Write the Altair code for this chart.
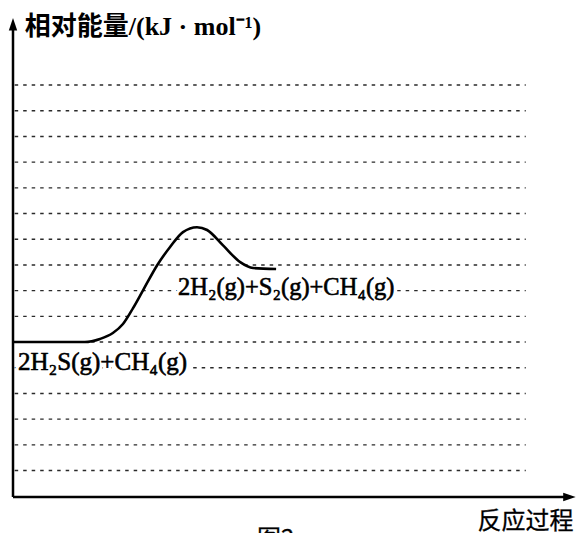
import altair as alt
import pandas as pd

# Reaction coordinate (arbitrary units, 0-100) and relative energy (grid units)
curve_x = [0, 12.8, 15.5, 17.8, 19.6, 21.4, 23.2, 25.7, 28.0, 30.3, 32.8, 34.6, 37.4, 40.5, 42.8, 46.9]
curve_e = [0, 0, 0.12, 0.35, 0.70, 1.32, 2.02, 2.99, 3.70, 4.28, 4.47, 4.36, 3.77, 3.11, 2.88, 2.84]

# Dashed reference levels
grid_levels = list(range(-5, 11))
grid_x_start = 0.3
grid_x_end = 91.4

# Axis extents
x_min, x_max = 0, 100
e_min, e_max = -6.03, 12.61

y_title = "相对能量/(kJ · mol⁻¹)"
x_title = "反应过程"
reactant_label = "2H₂S(g)+CH₄(g)"
product_label = "2H₂(g)+S₂(g)+CH₄(g)"
caption = "图2"

xs = alt.Scale(domain=[x_min, x_max], nice=False, zero=False)
ys = alt.Scale(domain=[e_min, e_max], nice=False, zero=False)

curve_df = pd.DataFrame({"x": curve_x, "e": curve_e})
grid_df = pd.DataFrame({"e": grid_levels, "x": grid_x_start, "x2": grid_x_end})

grid = alt.Chart(grid_df).mark_rule(
    color="#2a2a2a", strokeWidth=1.4, strokeDash=[3.5, 5]
).encode(
    x=alt.X("x:Q", scale=xs, axis=None),
    x2="x2:Q",
    y=alt.Y("e:Q", scale=ys, axis=None),
)

y_axis = alt.Chart(pd.DataFrame({"x": [x_min], "e": [e_min], "e2": [e_max - 0.3]})).mark_rule(
    color="black", strokeWidth=2.5
).encode(
    x=alt.X("x:Q", scale=xs, axis=None),
    y=alt.Y("e:Q", scale=ys, axis=None),
    y2="e2:Q",
)

x_axis = alt.Chart(pd.DataFrame({"x": [x_min], "x2": [x_max - 1], "e": [e_min]})).mark_rule(
    color="black", strokeWidth=2.5
).encode(
    x=alt.X("x:Q", scale=xs, axis=None),
    x2="x2:Q",
    y=alt.Y("e:Q", scale=ys, axis=None),
)

up_arrow = alt.Chart(pd.DataFrame({"x": [x_min], "e": [e_max]})).mark_point(
    shape="M0,0L-0.42,1.25L0.42,1.25Z", filled=True, color="black", opacity=1, size=400
).encode(
    x=alt.X("x:Q", scale=xs, axis=None),
    y=alt.Y("e:Q", scale=ys, axis=None),
)

right_arrow = alt.Chart(pd.DataFrame({"x": [x_max + 0.3], "e": [e_min]})).mark_point(
    shape="M0,0L-1.25,-0.42L-1.25,0.42Z", filled=True, color="black", opacity=1, size=400
).encode(
    x=alt.X("x:Q", scale=xs, axis=None),
    y=alt.Y("e:Q", scale=ys, axis=None),
)

curve = alt.Chart(curve_df).mark_line(
    color="black", strokeWidth=2.6, interpolate="monotone"
).encode(
    x=alt.X("x:Q", scale=xs, axis=None),
    y=alt.Y("e:Q", scale=ys, axis=None),
)


def label(text, x, e, size, font, align="left", baseline="alphabetic",
          weight="normal", outline=0.0, halo=0.0):
    """Text mark; `halo` draws a white knock-out copy underneath first."""
    base = alt.Chart(pd.DataFrame({"x": [x], "e": [e], "t": [text]})).encode(
        x=alt.X("x:Q", scale=xs, axis=None),
        y=alt.Y("e:Q", scale=ys, axis=None),
        text="t:N",
    )
    style = dict(align=align, baseline=baseline, fontSize=size, font=font,
                 fontWeight=weight)
    layers = []
    if halo > 0:
        layers.append(base.mark_text(color="white", stroke="white",
                                     strokeWidth=halo, **style))
    fg = dict(style, color="black")
    if outline > 0:
        fg.update(stroke="black", strokeWidth=outline)
    layers.append(base.mark_text(**fg))
    return layers


mixed_font = "Liberation Serif, Noto Sans CJK SC"
cjk_font = "Noto Sans CJK SC"

texts = (
    label(y_title, 2.1, 12.25, 26, mixed_font, baseline="middle", weight="bold")
    + label(x_title, 99.9, -7.28, 24, cjk_font, align="right", outline=0.3)
    + label(reactant_label, 0.9, -1.09, 25, "Liberation Serif", outline=0.6, halo=7)
    + label(product_label, 29.4, 1.83, 24.5, "Liberation Serif", outline=0.6, halo=7)
    + label(caption, 43.5, -7.25, 24, cjk_font, baseline="top", outline=0.3)
)

# Axes go on top so the label knock-outs never cut into them
chart = alt.layer(grid, curve, *texts, y_axis, x_axis, up_arrow, right_arrow).properties(
    width=561,
    height=479,
    autosize=alt.AutoSizeParams(type="none"),
    padding={"left": 13, "top": 18, "right": 5, "bottom": 36},
    background="white",
).configure_view(stroke=None)

chart.save("out.html", embed_options={"renderer": "svg", "actions": False})
